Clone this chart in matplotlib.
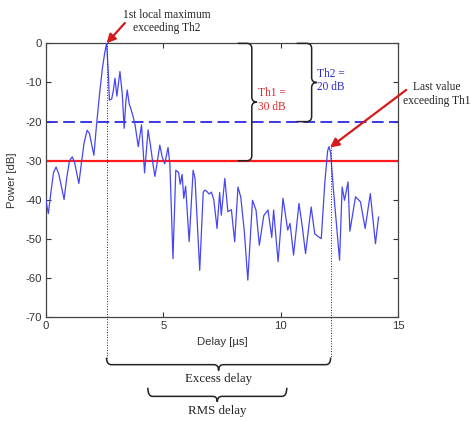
import numpy as np
import matplotlib
matplotlib.use("Agg")
import matplotlib.pyplot as plt
from matplotlib.path import Path
from matplotlib.patches import PathPatch

# ---- data ----
delay_us = [0.00, 0.05, 0.10, 0.20, 0.32, 0.43, 0.55, 0.67, 0.77, 0.88, 1.00, 1.12,
            1.22, 1.32, 1.40, 1.50, 1.62, 1.75, 1.85, 1.95, 2.04, 2.15, 2.28, 2.40,
            2.50, 2.58, 2.65, 2.70, 2.80, 2.87, 2.94, 3.02, 3.15, 3.25, 3.33, 3.40,
            3.46, 3.55, 3.62, 3.71, 3.80, 3.93, 4.07, 4.20, 4.35, 4.45, 4.55, 4.64,
            4.75, 4.85, 4.95, 5.06, 5.20, 5.28, 5.41, 5.53, 5.65, 5.72, 5.80, 5.87,
            5.95, 6.10, 6.27, 6.35, 6.55, 6.70, 6.77, 6.85, 6.95, 7.05, 7.15, 7.29,
            7.40, 7.47, 7.62, 7.75, 7.90, 8.04, 8.18, 8.30, 8.45, 8.60, 8.80, 8.95,
            9.09, 9.28, 9.46, 9.62, 9.70, 9.89, 10.10, 10.30, 10.40, 10.55, 10.78,
            10.92, 11.06, 11.30, 11.45, 11.60, 11.73, 11.88, 12.00, 12.06, 12.13,
            12.25, 12.51, 12.62, 12.72, 12.87, 12.95, 13.19, 13.40, 13.60, 13.82,
            14.04, 14.17]
power_db = [-40.0, -42.0, -43.5, -38.5, -33.0, -31.6, -33.5, -37.0, -39.9, -34.5, -30.0, -29.0,
            -30.5, -33.5, -35.8, -31.0, -25.5, -22.2, -23.0, -26.0, -28.6, -21.0, -13.0, -6.5,
            -2.5, 0.0, -6.8, -14.5, -14.2, -12.0, -8.9, -13.5, -7.2, -13.0, -21.7, -15.0,
            -11.9, -15.6, -16.8, -18.7, -21.0, -26.4, -20.8, -33.1, -22.1, -26.0, -30.5, -34.0,
            -30.0, -26.0, -29.0, -30.8, -26.6, -31.0, -55.0, -32.4, -33.0, -36.0, -33.5, -39.6,
            -36.5, -50.7, -32.4, -34.5, -58.0, -38.0, -37.5, -37.8, -38.5, -38.0, -40.0, -47.3,
            -38.1, -43.9, -34.5, -43.0, -42.5, -50.7, -36.7, -39.3, -48.0, -60.5, -40.1, -42.6,
            -51.6, -44.0, -42.6, -49.6, -42.6, -55.8, -39.6, -47.7, -46.0, -54.1, -40.9,
            -46.8, -53.7, -41.8, -48.6, -49.4, -49.9, -35.7, -27.5, -26.4, -28.0,
            -37.5, -55.4, -36.7, -40.1, -35.4, -48.0, -39.2, -40.5, -47.3, -38.4,
            -51.2, -44.4]
th1_db = 30
th2_db = 20
rms_delay_span = [4.34, 10.26]
x_ticks = [0, 5, 10, 15]
y_ticks = [0, -10, -20, -30, -40, -50, -60, -70]

SANS = ['Liberation Sans', 'DejaVu Sans']
SERIF = ['Liberation Serif', 'DejaVu Serif']
plt.rcParams['font.family'] = SANS
plt.rcParams['axes.unicode_minus'] = False

t = np.array(delay_us)
p = np.array(power_db)
peak = p.max()
i_first = int(np.argmax(p))
above = np.where(p > peak - th1_db)[0]
i_last = int(above[-1])
t_first, t_last = t[i_first], t[i_last]
# local max of the last excursion above Th1
i_last_pk = int(above[-1] - 1 if p[above[-1] - 1] > p[above[-1]] else above[-1])

fig = plt.figure(figsize=(4.71, 4.21), dpi=100)
ax = fig.add_axes([0.0977, 0.2463, 0.7473, 0.6507])

ax.plot(t, p, color='#4646f2', lw=0.9, zorder=3)
ax.axhline(peak - th2_db, color='#2a2ae0', lw=1.3, ls=(0, (6.5, 3.0)), zorder=2)
ax.axhline(peak - th1_db, color='#ff1c1c', lw=1.6, zorder=2)

ax.set_xlim(0, 15)
ax.set_ylim(-70, 0)
ax.set_xticks(x_ticks)
ax.set_yticks(y_ticks)
ax.tick_params(direction='in', length=3.5, width=0.8, top=True, right=True,
               labelsize=8.2, colors='#333333', labelcolor='#333333', pad=3)
for s in ax.spines.values():
    s.set_color('#444444')
    s.set_linewidth(0.9)
ax.set_xlabel('Delay [µs]', fontsize=8.2, color='#333333', labelpad=4)
ax.set_ylabel('Power [dB]', fontsize=8.2, color='#333333', labelpad=6)

# dotted verticals
ax.plot([t_first, t_first], [p[i_first], -80.3], ls=':', color='#222222', lw=0.7,
        clip_on=False, zorder=4)
ax.plot([t_last, t_last], [p[i_last_pk], -80.3], ls=':', color='#222222', lw=0.7,
        clip_on=False, zorder=4)


def hbrace(x1, x2, y_lip, y_flat, y_tip, rx=0.2):
    mid = (x1 + x2) / 2
    verts = [(x1, y_lip), (x1, y_flat), (x1 + rx, y_flat),
             (mid - rx, y_flat), (mid, y_flat), (mid, y_tip),
             (mid, y_flat), (mid + rx, y_flat),
             (x2 - rx, y_flat), (x2, y_flat), (x2, y_lip)]
    codes = [Path.MOVETO, Path.CURVE3, Path.CURVE3,
             Path.LINETO, Path.CURVE3, Path.CURVE3,
             Path.CURVE3, Path.CURVE3,
             Path.LINETO, Path.CURVE3, Path.CURVE3]
    ax.add_patch(PathPatch(Path(verts, codes), fill=False, lw=1.1, color='#222222',
                           clip_on=False, zorder=5))


def vbrace(x_lip, x0, y_top, y_bot, tip=0.22, ry=1.3, rx=0.22):
    ym = (y_top + y_bot) / 2
    verts = [(x_lip, y_top), (x0 - rx, y_top), (x0, y_top), (x0, y_top - ry),
             (x0, ym + ry), (x0, ym), (x0 + tip, ym),
             (x0, ym), (x0, ym - ry),
             (x0, y_bot + ry), (x0, y_bot), (x0 - rx, y_bot), (x_lip, y_bot)]
    codes = [Path.MOVETO, Path.LINETO, Path.CURVE3, Path.CURVE3,
             Path.LINETO, Path.CURVE3, Path.CURVE3,
             Path.CURVE3, Path.CURVE3,
             Path.LINETO, Path.CURVE3, Path.CURVE3, Path.LINETO]
    ax.add_patch(PathPatch(Path(verts, codes), fill=False, lw=1.1, color='#222222',
                           clip_on=False, zorder=5))


vbrace(8.17, 8.77, peak, peak - th1_db)
vbrace(10.68, 11.32, peak, peak - th2_db)
ax.text(9.02, -14.5, 'Th1 =\n30 dB', color='#e02828', fontsize=8.3, family=SERIF,
        va='center', ha='left', linespacing=1.15)
ax.text(11.53, -9.5, 'Th2 =\n20 dB', color='#2a2ad0', fontsize=8.3, family=SERIF,
        va='center', ha='left', linespacing=1.15)

hbrace(t_first, t_last, -80.3, -82.1, -83.6)
ax.text((t_first + t_last) / 2, -85.7, 'Excess delay', fontsize=9.3, family=SERIF,
        ha='center', va='center', color='#222222', clip_on=False)
hbrace(rms_delay_span[0], rms_delay_span[1], -88.0, -90.2, -91.6)
ax.text(sum(rms_delay_span) / 2, -93.9, 'RMS delay', fontsize=9.3, family=SERIF,
        ha='center', va='center', color='#222222', clip_on=False)

red = '#d41a1a'
ax.annotate('', xy=(t_first, peak), xytext=(3.36, 5.2),
            arrowprops=dict(arrowstyle='-|>', color=red, lw=1.6, mutation_scale=13,
                            shrinkA=0, shrinkB=0), annotation_clip=False)
ax.text(5.14, 5.6, '1st local maximum\nexceeding Th2', fontsize=8.3, family=SERIF,
        ha='center', va='center', color='#222222', linespacing=1.15, clip_on=False)

ax.annotate('', xy=(t_last - 0.03, p[i_last_pk] - 0.2), xytext=(15.35, -11.9),
            arrowprops=dict(arrowstyle='-|>', color=red, lw=1.6, mutation_scale=13,
                            shrinkA=0, shrinkB=0), annotation_clip=False)
ax.text(16.64, -12.9, 'Last value\nexceeding Th1', fontsize=8.3, family=SERIF,
        ha='center', va='center', color='#222222', linespacing=1.15, clip_on=False)

fig.savefig('out.png', dpi=100)
